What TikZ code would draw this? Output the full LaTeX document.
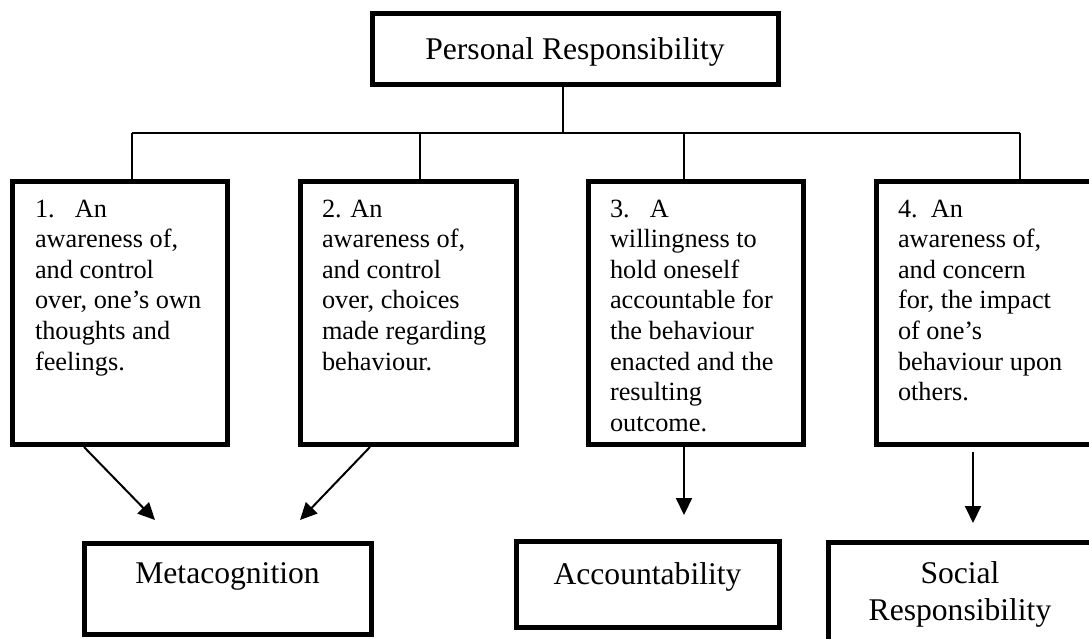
\documentclass[tikz,border=0pt]{standalone}
\usepackage{fontspec}
\setmainfont{Liberation Serif}
\usetikzlibrary{arrows.meta,calc}
\newcommand{\bigfont}{\fontsize{31.6}{37}\selectfont}
\newcommand{\midtxt}[1]{{\fontsize{26.3}{30.6}\selectfont\begin{tabular}[t]{@{}l@{}}#1\end{tabular}}}
\begin{document}
\begin{tikzpicture}[x=1pt,y=-1pt,
  box/.style={draw,line width=5pt,rectangle,inner sep=0pt,outer sep=0pt},
  tree/.style={line width=1.5pt},
  arr/.style={line width=2pt,-{Triangle[length=17pt,width=16pt]}},
  lbl/.style={inner sep=0pt,outer sep=0pt}]
\useasboundingbox (0,0) rectangle (1089,638);
\clip (0,0) rectangle (1089,638);

% boxes
\node[box,minimum width=406pt,minimum height=71pt] (top) at (575,48.5) {};
\node[box,minimum width=215pt,minimum height=263pt] (b1) at (119.5,312.5) {};
\node[box,minimum width=216pt,minimum height=263pt] (b2) at (408,312.5) {};
\node[box,minimum width=215pt,minimum height=263pt] (b3) at (695.5,312.5) {};
\node[box,minimum width=218pt,minimum height=263pt] (b4) at (985,312.5) {};
\node[box,minimum width=287pt,minimum height=91pt] (meta) at (227.5,588.5) {};
\node[box,minimum width=263pt,minimum height=86pt] (acc) at (647.5,584) {};
\node[box,minimum width=268pt,minimum height=110pt] (soc) at (962,597) {};

% texts
\node[lbl,anchor=base,font=\bigfont] (toptxt) at (575,59) {Personal Responsibility};
\node[lbl,anchor=base west] (t1) at (35,217) {\midtxt{\makebox[40pt][l]{1.}An\\awareness of,\\and control\\over, one’s own\\thoughts and\\feelings.}};
\node[lbl,anchor=base west] (t2) at (322,217) {\midtxt{2. An\\awareness of,\\and control\\over, choices\\made regarding\\behaviour.}};
\node[lbl,anchor=base west] (t3) at (610,217) {\midtxt{\makebox[40pt][l]{3.}A\\willingness to\\hold oneself\\accountable for\\the behaviour\\enacted and the\\resulting\\outcome.}};
\node[lbl,anchor=base west] (t4) at (898,217) {\midtxt{\makebox[33pt][l]{4.}An\\awareness of,\\and concern\\for, the impact\\of one’s\\behaviour upon\\others.}};
\node[lbl,anchor=base,font=\bigfont] (metatxt) at (227.5,583) {Metacognition};
\node[lbl,anchor=base,font=\bigfont] (acctxt) at (647.5,584) {Accountability};
\node[lbl,anchor=base] (soctxt) at (960,583) {\bigfont\begin{tabular}[t]{@{}c@{}}Social\\Responsibility\end{tabular}};

% tree connectors
\coordinate (j) at (563,133);
\coordinate (d1) at (132,133);
\coordinate (d2) at (420,133);
\coordinate (d3) at (684,133);
\coordinate (d4) at (1020,133);
\draw[tree] (j |- top.south) -- (j);
\draw[tree] (d1) -- (d4);
\draw[tree] (d1) -- (d1 |- b1.north);
\draw[tree] (d2) -- (d2 |- b2.north);
\draw[tree] (d3) -- (d3 |- b3.north);
\draw[tree] (d4) -- (d4 |- b4.north);

% arrows
\draw[arr] ($(b1.south west)+(72,3)$) -- ($(meta.north west)+(71,-23)$);
\draw[arr] ($(b2.south west)+(70,3)$) -- ($(meta.north east)+(-71,-23)$);
\draw[arr] (d3 |- b3.south) -- ($(d3 |- acc.north)+(0,-26)$);
\draw[arr] ($(b4.south west)+(97,8)$) -- ($(soc.north west)+(145,-19)$);
\end{tikzpicture}
\end{document}
